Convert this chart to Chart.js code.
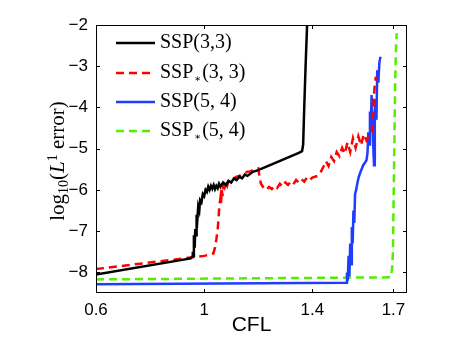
<!DOCTYPE html>
<html>
<head>
<meta charset="utf-8">
<script src="https://cdn.jsdelivr.net/npm/chart.js@4/dist/chart.umd.min.js"></script>
<style>
  html, body { margin: 0; padding: 0; background: #fff; }
  #wrap { width: 450px; height: 339px; }
</style>
</head>
<body>
<div id="wrap"><canvas id="c"></canvas></div>
<script>
// axis ticks
const xTicks = [0.6, 1, 1.4, 1.7];
const xTickLabels = ['0.6', '1', '1.4', '1.7'];
const yTicks = [-8, -7, -6, -5, -4, -3, -2];

// SSP(3,3)
const ssp33X = [0.6, 0.95, 0.955, 0.958, 0.96, 0.962, 0.965, 0.967, 0.97, 0.972, 0.975, 0.978, 0.982, 0.985, 0.99, 0.995,
  1.0, 1.005, 1.01, 1.015, 1.02, 1.025, 1.03, 1.035, 1.04, 1.045, 1.05, 1.055, 1.06, 1.07, 1.08, 1.09, 1.1, 1.11, 1.12,
  1.13, 1.14, 1.15, 1.16, 1.18, 1.2, 1.25, 1.3, 1.35, 1.362, 1.366, 1.37, 1.375, 1.38, 1.382];
const ssp33Y = [-8.05, -7.66, -7.62, -7.5, -7.6, -7.1, -7.4, -6.95, -7.1, -6.6, -6.7, -6.4, -6.5, -6.25, -6.3, -6.1,
  -6.15, -6.0, -6.05, -5.92, -6.0, -5.9, -5.97, -5.88, -5.98, -5.9, -5.96, -5.85, -5.92, -5.82, -5.88, -5.78, -5.82, -5.72, -5.76,
  -5.68, -5.72, -5.63, -5.66, -5.56, -5.52, -5.38, -5.24, -5.1, -5.06, -4.9, -4.0, -3.0, -2.1, -1.8];

// SSP*(3,3)
const sspS33X = [0.6, 0.95, 1.0, 1.034, 1.04, 1.045, 1.05, 1.053, 1.056, 1.06, 1.062, 1.065, 1.068, 1.07, 1.075, 1.08,
  1.085, 1.09, 1.1, 1.11, 1.12, 1.13, 1.14, 1.15, 1.16, 1.17, 1.18, 1.19, 1.2, 1.205, 1.21, 1.22, 1.23, 1.24, 1.25, 1.26,
  1.27, 1.28, 1.29, 1.3, 1.31, 1.32, 1.33, 1.34, 1.35, 1.36, 1.37, 1.38, 1.39, 1.4, 1.42, 1.43, 1.44, 1.45, 1.46, 1.47,
  1.48, 1.49, 1.5, 1.51, 1.52, 1.53, 1.54, 1.55, 1.56, 1.57, 1.58, 1.59, 1.6, 1.61, 1.62, 1.625, 1.63, 1.635];
const sspS33Y = [-7.92, -7.64, -7.6, -7.54, -7.4, -7.2, -6.95, -6.7, -6.4, -6.2, -6.35, -6.0, -6.15, -5.9, -5.95, -5.82,
  -5.9, -5.78, -5.76, -5.72, -5.68, -5.66, -5.62, -5.6, -5.56, -5.55, -5.52, -5.5, -5.48, -5.7, -5.85, -5.95, -6.0, -5.93, -5.98, -5.9,
  -5.95, -5.85, -5.92, -5.82, -5.88, -5.8, -5.86, -5.76, -5.82, -5.74, -5.8, -5.7, -5.76, -5.7, -5.66, -5.58, -5.45, -5.3, -5.42, -5.2,
  -5.3, -5.08, -5.18, -4.98, -5.12, -4.85, -5.08, -4.75, -4.98, -4.7, -4.92, -4.65, -4.8, -4.68, -4.6, -4.1, -3.5, -3.25];

// SSP(5,4)
const ssp54X = [0.6, 1.525, 1.528, 1.531, 1.534, 1.537, 1.54, 1.543, 1.546, 1.549, 1.552, 1.555, 1.558, 1.562, 1.566,
  1.571, 1.576, 1.582, 1.588, 1.594, 1.6, 1.604, 1.607, 1.61, 1.613, 1.616, 1.619, 1.622, 1.625, 1.628, 1.631, 1.634,
  1.637, 1.64, 1.644, 1.648, 1.652];
const ssp54Y = [-8.29, -8.25, -8.0, -8.2, -7.6, -8.1, -7.3, -7.8, -6.9, -7.3, -6.5, -6.8, -6.1, -6.0, -5.85,
  -5.7, -5.6, -5.5, -5.4, -5.35, -5.28, -5.1, -4.6, -4.9, -4.1, -4.5, -3.7, -4.3, -4.9, -5.4, -4.2, -3.8,
  -4.3, -3.1, -3.4, -2.9, -2.77];

// SSP*(5,4)
const sspS54X = [0.6, 1.69, 1.695, 1.698, 1.7, 1.703, 1.706, 1.709, 1.712];
const sspS54Y = [-8.17, -8.12, -7.9, -7.5, -6.5, -5.0, -3.5, -2.6, -2.2];

const seriesNames = ['SSP(3,3)', 'SSP*(3, 3)', 'SSP(5, 4)', 'SSP*(5, 4)'];

const pts = (xs, ys) => xs.map((x, i) => ({ x, y: ys[i] }));

const SANS = '"Liberation Sans", Arial, sans-serif';
const SERIF = '"Liberation Serif", "Times New Roman", serif';

// box, inward ticks on all four sides, y title and legend (with sub/superscripts)
const decor = {
  id: 'decor',
  afterDatasetsDraw(chart) {
    const { ctx, chartArea: a, scales: { x, y } } = chart;
    ctx.save();
    ctx.strokeStyle = '#000';
    ctx.lineWidth = 1;
    ctx.strokeRect(a.left + 0.5, a.top + 0.5, a.width - 1, a.height - 1);
    ctx.beginPath();
    x.ticks.forEach(t => {
      const px = Math.round(x.getPixelForValue(t.value)) + 0.5;
      ctx.moveTo(px, a.bottom); ctx.lineTo(px, a.bottom - 4);
      ctx.moveTo(px, a.top); ctx.lineTo(px, a.top + 4);
    });
    y.ticks.forEach(t => {
      const py = Math.round(y.getPixelForValue(t.value)) + 0.5;
      ctx.moveTo(a.left, py); ctx.lineTo(a.left + 4, py);
      ctx.moveTo(a.right, py); ctx.lineTo(a.right - 4, py);
    });
    ctx.stroke();

    // legend
    const rowY = [43, 73, 102, 131];
    chart.data.datasets.forEach((ds, i) => {
      const yy = a.top + rowY[i] - 25;
      ctx.strokeStyle = ds.borderColor;
      ctx.lineWidth = ds.borderWidth;
      ctx.setLineDash(ds.borderDash || []);
      ctx.beginPath();
      ctx.moveTo(a.left + 20, yy); ctx.lineTo(a.left + 59, yy);
      ctx.stroke();
      ctx.setLineDash([]);
      ctx.fillStyle = '#000';
      ctx.textBaseline = 'middle';
      ctx.textAlign = 'left';
      let tx = a.left + 64;
      const name = seriesNames[i];
      const star = name.indexOf('*');
      ctx.font = '20px ' + SERIF;
      if (star < 0) {
        ctx.fillText(name, tx, yy);
      } else {
        const head = name.slice(0, star), tail = name.slice(star + 1);
        ctx.fillText(head, tx, yy);
        tx += ctx.measureText(head).width + 1;
        ctx.font = '10px "DejaVu Serif", serif';
        ctx.fillText('\u2217', tx, yy + 6);
        tx += ctx.measureText('\u2217').width + 1;
        ctx.font = '20px ' + SERIF;
        ctx.fillText(tail, tx, yy);
      }
    });

    // y axis title: log10(L^1 error)
    ctx.save();
    ctx.translate(58, 161);
    ctx.rotate(-Math.PI / 2);
    const parts = [
      { t: 'log', f: '21px ' + SERIF, dy: 0 },
      { t: '10', f: '14px ' + SERIF, dy: 6 },
      { t: '(', f: '21px ' + SERIF, dy: 0 },
      { t: 'L', f: 'italic 21px ' + SERIF, dy: 0 },
      { t: '1', f: '14px ' + SERIF, dy: -5 },
      { t: ' error)', f: '21px ' + SERIF, dy: 0 }
    ];
    let w = 0;
    parts.forEach(p => { ctx.font = p.f; w += ctx.measureText(p.t).width; });
    let px = -w / 2;
    ctx.textBaseline = 'middle';
    ctx.textAlign = 'left';
    ctx.fillStyle = '#000';
    parts.forEach(p => {
      ctx.font = p.f;
      ctx.fillText(p.t, px, p.dy);
      px += ctx.measureText(p.t).width;
    });
    ctx.restore();
    ctx.restore();
  }
};

new Chart(document.getElementById('c'), {
  type: 'line',
  data: {
    datasets: [
      { label: seriesNames[0], data: pts(ssp33X, ssp33Y), borderColor: '#000000', borderWidth: 2.5 },
      { label: seriesNames[1], data: pts(sspS33X, sspS33Y), borderColor: '#ff0000', borderWidth: 2.5, borderDash: [8, 5] },
      { label: seriesNames[2], data: pts(ssp54X, ssp54Y), borderColor: '#1f3dff', borderWidth: 2.5 },
      { label: seriesNames[3], data: pts(sspS54X, sspS54Y), borderColor: '#55ee00', borderWidth: 2.5, borderDash: [8, 5] }
    ]
  },
  options: {
    responsive: true,
    maintainAspectRatio: false,
    animation: false,
    layout: { padding: { top: 25, right: 43, left: 0, bottom: 0 } },
    elements: { point: { radius: 0 }, line: { tension: 0 } },
    plugins: { legend: { display: false }, tooltip: { enabled: false } },
    scales: {
      x: {
        type: 'linear',
        min: 0.6,
        max: 1.75,
        afterBuildTicks: s => { s.ticks = xTicks.map(v => ({ value: v })); },
        afterFit: s => { s.height = 46; },
        grid: { display: false, drawTicks: false },
        border: { display: false },
        ticks: {
          padding: 7,
          color: '#000',
          font: { family: SANS, size: 17 },
          callback: (v, i) => xTickLabels[i]
        },
        title: { display: true, text: 'CFL', color: '#000', font: { family: SANS, size: 21 }, padding: { top: 0, bottom: 1 } }
      },
      y: {
        type: 'linear',
        min: -8.5,
        max: -2,
        afterBuildTicks: s => { s.ticks = yTicks.map(v => ({ value: v })); },
        afterFit: s => { s.width = 96; },
        grid: { display: false, drawTicks: false },
        border: { display: false },
        ticks: {
          padding: 8,
          color: '#000',
          font: { family: SANS, size: 17 },
          callback: v => String(v).replace('-', '\u2212')
        }
      }
    }
  },
  plugins: [decor]
});
</script>
</body>
</html>
